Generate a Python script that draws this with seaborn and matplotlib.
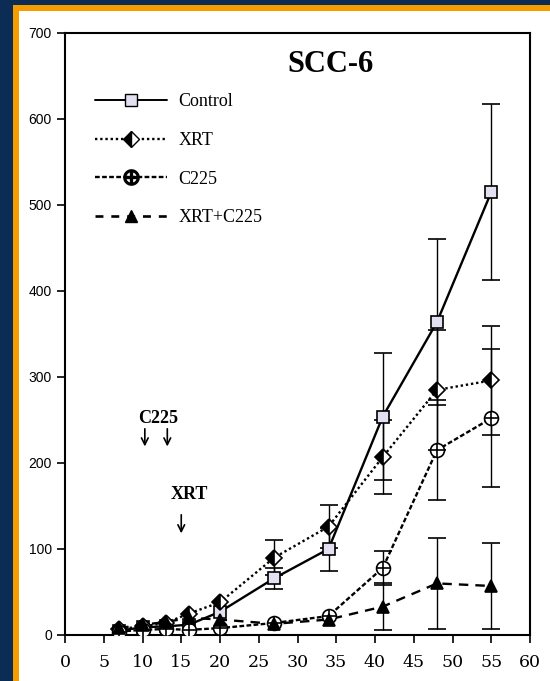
import matplotlib
matplotlib.use("Agg")
import matplotlib.pyplot as plt
import seaborn as sns
import pandas as pd
import numpy as np
from matplotlib.lines import Line2D
from matplotlib.patches import Rectangle

days = [7, 10, 13, 16, 20, 27, 34, 41, 48, 55]
control = [5, 9, 10, 12, 27, 66, 100, 254, 364, 515]
control_err = [0, 0, 0, 0, 0, 12, 25, 74, 96, 102]
xrt = [7, 10, 14, 25, 38, 90, 126, 207, 285, 296]
xrt_err = [0, 0, 0, 0, 0, 20, 25, 43, 70, 63]
c225 = [4, 6, 7, 6, 8, 14, 22, 78, 215, 252]
c225_err = [0, 0, 0, 0, 0, 0, 0, 20, 58, 80]
combo = [8, 12, 15, 20, 18, 13, 18, 33, 60, 57]
combo_err = [0, 0, 0, 0, 0, 0, 0, 27, 53, 50]
series_names = ["Control", "XRT", "C225", "XRT+C225"]
x_ticks = list(range(0, 61, 5))
y_ticks = list(range(0, 701, 100))

sns.set_theme(style="white")
plt.rcParams['font.family'] = ['Liberation Serif', 'DejaVu Serif']
plt.rcParams['text.color'] = 'black'
plt.rcParams['xtick.color'] = 'black'
plt.rcParams['ytick.color'] = 'black'

fig = plt.figure(figsize=(5.5, 6.81), dpi=100)
fig.patch.set_facecolor("#0b2d55")
# orange border and white panel
fig.add_artist(Rectangle((13/550, 0), 1, 1 - 5/681, transform=fig.transFigure,
                         facecolor="#f59c00", edgecolor="none", zorder=0))
fig.add_artist(Rectangle((19/550, 0), 1, 1 - 11/681, transform=fig.transFigure,
                         facecolor="white", edgecolor="none", zorder=0))

ax = fig.add_axes([65/550, 46/681, 465/550, 602/681])
ax.set_facecolor("none")

df = pd.DataFrame({
    "day": days * 4,
    "vol": control + xrt + c225 + combo,
    "err": control_err + xrt_err + c225_err + combo_err,
    "group": sum([[n] * len(days) for n in series_names], []),
})

styles = {
    "Control": "-",
    "XRT": (0, (1, 1.2)),
    "C225": (0, (2, 1)),
    "XRT+C225": (0, (4, 3)),
}

for name in series_names:
    sub = df[df.group == name]
    sns.lineplot(data=sub, x="day", y="vol", ax=ax, color="black",
                 linewidth=1.7, linestyle=styles[name], zorder=2, legend=False)
    m = sub.err > 0
    ax.errorbar(sub.day[m], sub.vol[m], yerr=sub.err[m], fmt="none",
                ecolor="black", elinewidth=1.0, capsize=6.5, capthick=1.2, zorder=1)

# markers
mk = dict(zorder=4, markersize=9, markeredgecolor="black", markeredgewidth=1.2, linestyle="none")
sub = df[df.group == "Control"]
ax.plot(sub.day, sub.vol, marker="s", markerfacecolor="#e4e0f2", **mk)
sub = df[df.group == "XRT"]
ax.plot(sub.day, sub.vol, marker="D", fillstyle="left", markerfacecolor="black",
        markerfacecoloralt="white", **{**mk, "markersize": 8})
sub = df[df.group == "C225"]
ax.plot(sub.day, sub.vol, marker="o", markerfacecolor="white", **{**mk, "markersize": 10})
ax.plot(sub.day, sub.vol, marker="+", color="black", markersize=10, markeredgewidth=1.2,
        linestyle="none", zorder=5)
sub = df[df.group == "XRT+C225"]
ax.plot(sub.day, sub.vol, marker="^", markerfacecolor="black", **mk)

ax.set_xlim(0, 60)
ax.set_ylim(0, 700)
ax.set_xticks(x_ticks)
ax.set_yticks(y_ticks)
ax.set_xticklabels([str(t) for t in x_ticks], fontsize=12.5, family="DejaVu Serif")
ax.set_yticklabels([str(t) for t in y_ticks], fontsize=10, family="Liberation Sans")
ax.tick_params(axis="both", direction="out", length=6, width=1.2, colors="black",
               left=True, bottom=True)
ax.tick_params(axis="x", pad=8)
ax.set_xlabel("")
ax.set_ylabel("")
for s in ax.spines.values():
    s.set_color("black")
    s.set_linewidth(1.5)

# title
ax.text(34.3, 663, "SCC-6", fontsize=22, fontweight="bold", ha="center", va="center",
        color="black")

# legend
handles = [
    Line2D([], [], color="black", lw=1.4, ls="-", marker="s", markersize=9,
           markerfacecolor="#e4e0f2", markeredgecolor="black"),
    Line2D([], [], color="black", lw=1.7, ls=(0, (1, 1.2)), marker="D", markersize=8,
           fillstyle="left", markerfacecolor="black", markerfacecoloralt="white",
           markeredgecolor="black"),
    Line2D([], [], color="black", lw=1.7, ls=(0, (2, 1)), marker="$\\oplus$", markersize=11),
    Line2D([], [], color="black", lw=1.9, ls=(0, (3, 3)), marker="^", markersize=9,
           markerfacecolor="black"),
]
leg = ax.legend(handles, series_names, loc="upper left", bbox_to_anchor=(0.03, 0.927),
                frameon=False, fontsize=13, handlelength=4.0, handletextpad=0.6,
                labelspacing=1.2)
for t in leg.get_texts():
    t.set_color("black")

# annotations
ax.text(12.0, 252, "C225", fontsize=13, fontweight="bold", ha="center", va="center")
for xa in [10.3, 13.2]:
    ax.annotate("", xy=(xa, 216), xytext=(xa, 243),
                arrowprops=dict(arrowstyle="->", color="black", lw=1.2))
ax.text(16, 163, "XRT", fontsize=13, fontweight="bold", ha="center", va="center")
ax.annotate("", xy=(15, 115), xytext=(15, 143),
            arrowprops=dict(arrowstyle="->", color="black", lw=1.2))

fig.savefig("out.png", dpi=100, facecolor=fig.get_facecolor())
